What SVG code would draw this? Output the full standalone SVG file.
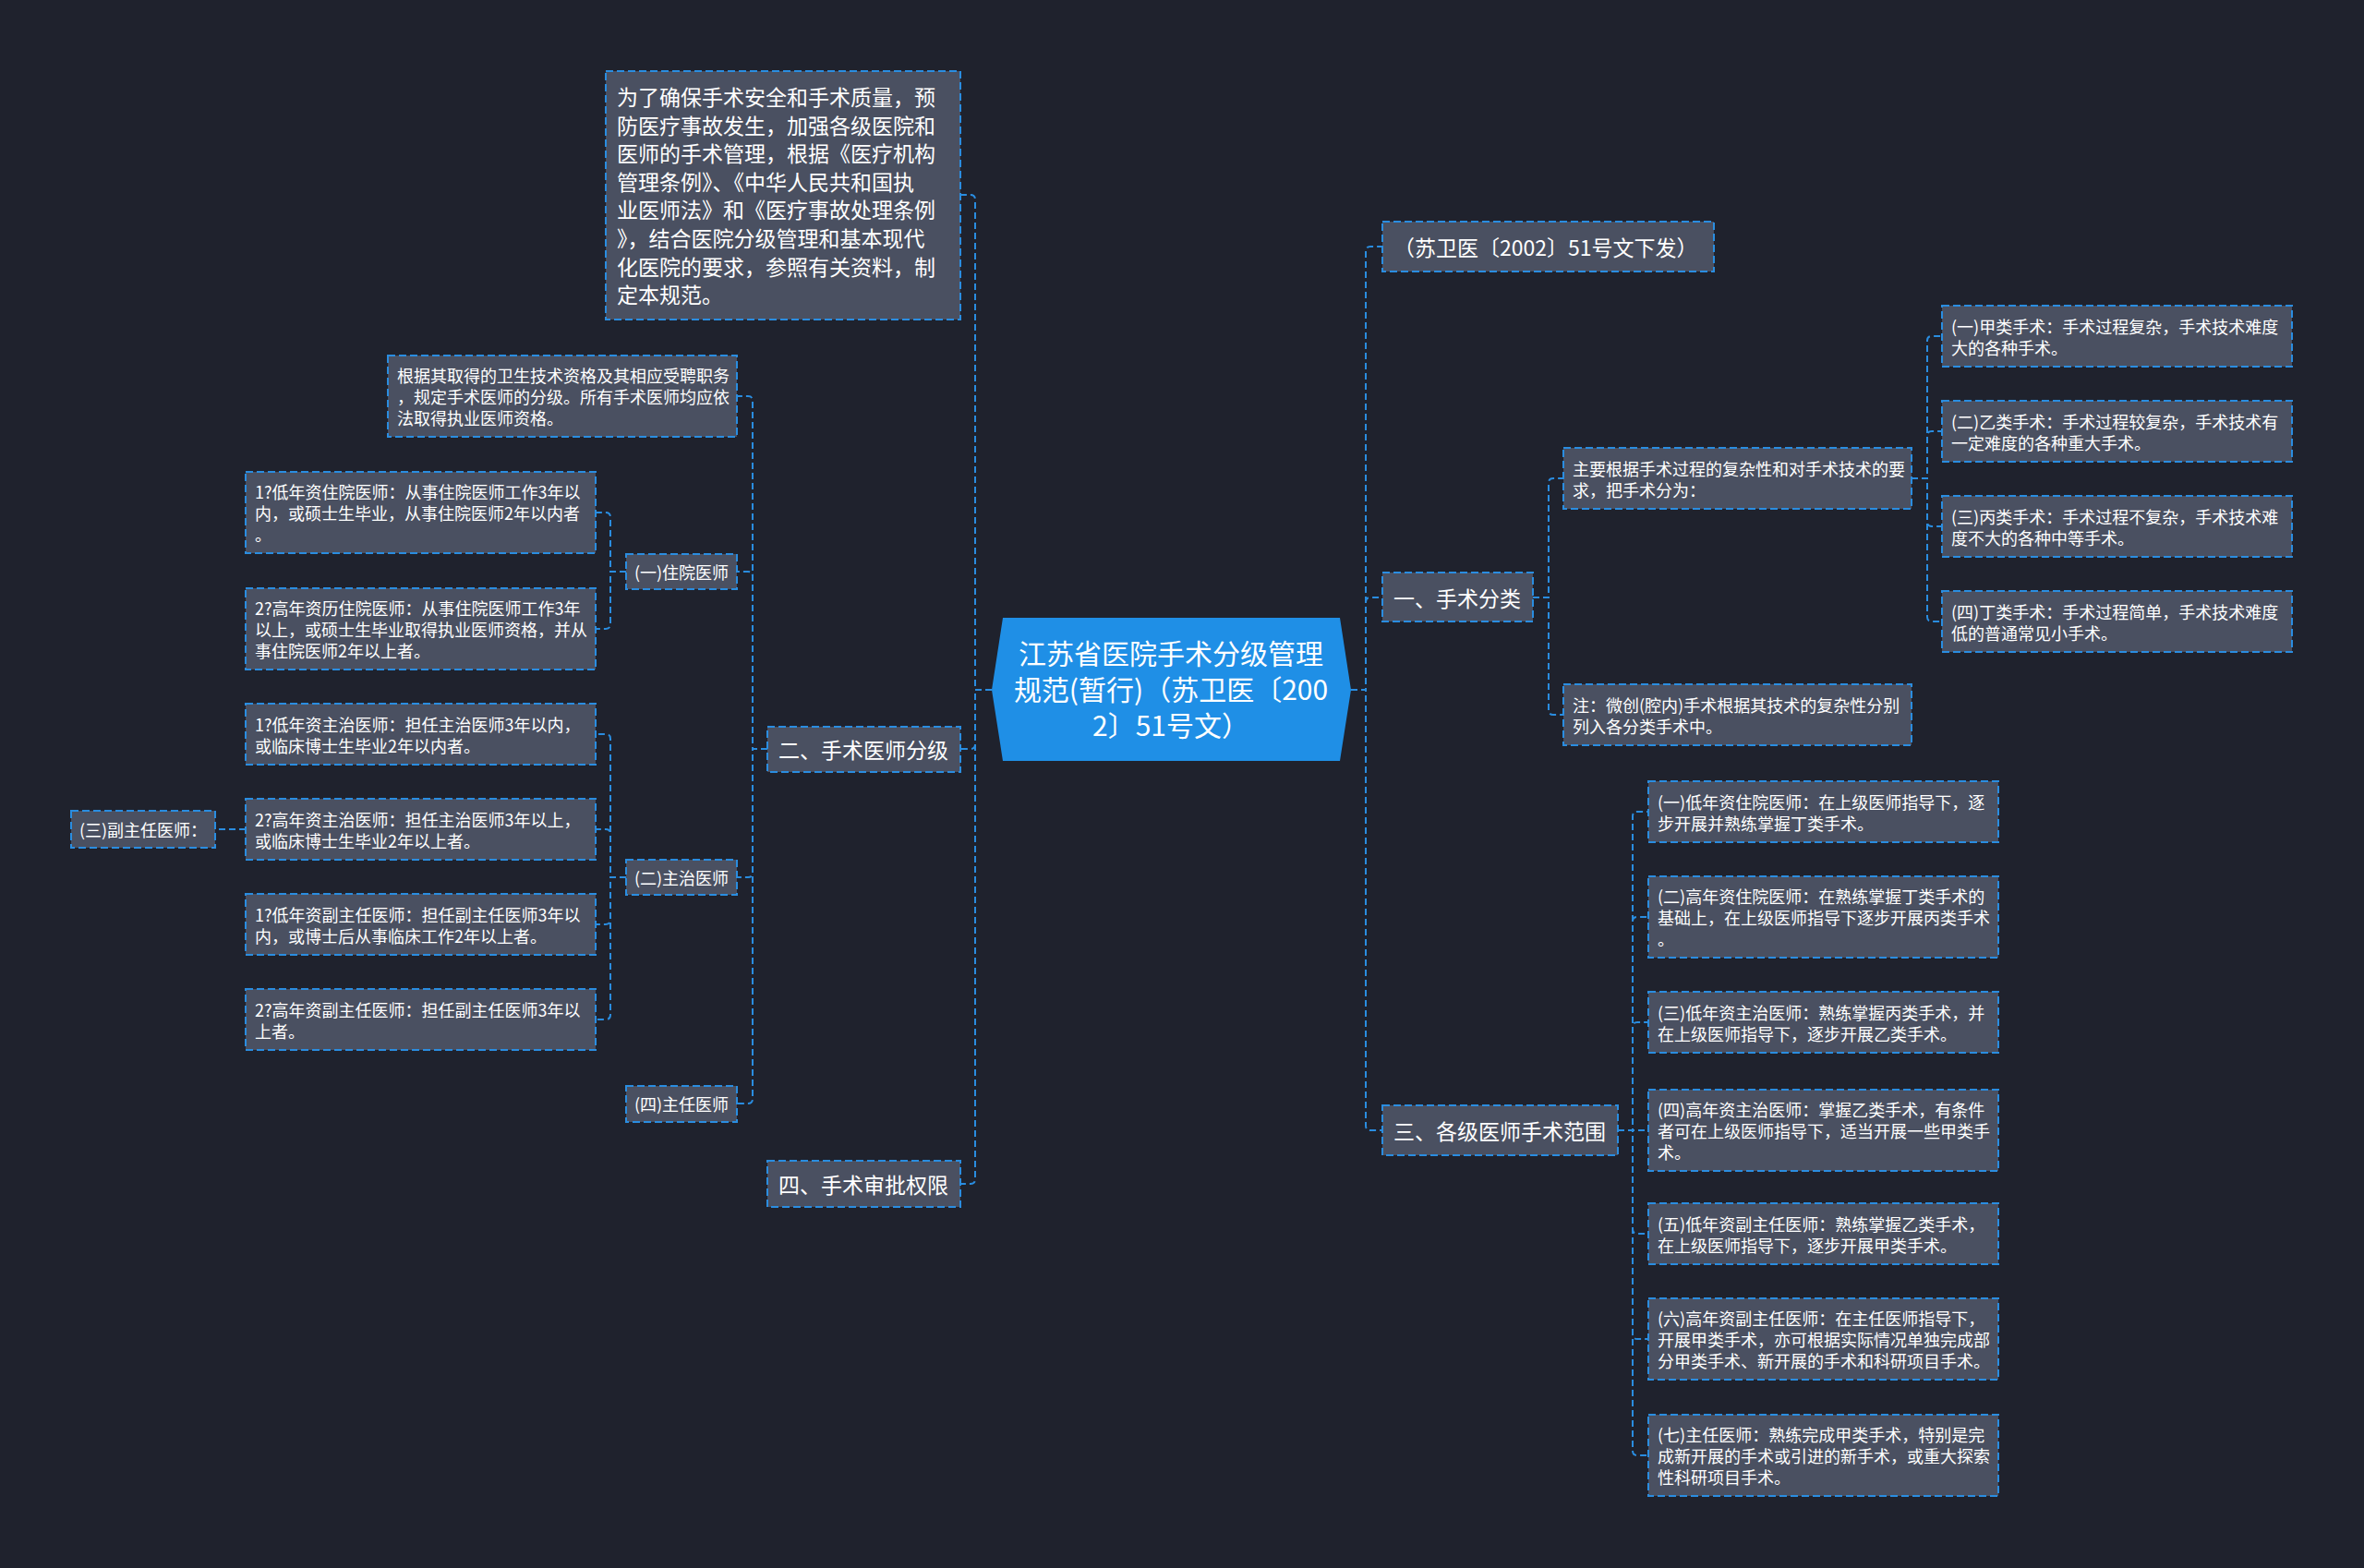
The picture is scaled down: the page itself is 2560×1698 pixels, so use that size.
<svg xmlns="http://www.w3.org/2000/svg" width="2560" height="1698" viewBox="0 0 2560 1698">
<defs>
<style>
.bg{fill:#1f222d}
.n{fill:#4a5061;stroke:#2a8de0;stroke-width:2;stroke-dasharray:8 4}
.root{fill:#1f8fe6}
.t{font-family:"Noto Sans CJK SC","Noto Sans",sans-serif;fill:#ffffff;dominant-baseline:central}
.s18{font-size:18px}
.s23{font-size:23px}
.s30{font-size:30px}
.c{fill:none;stroke:#2a8de0;stroke-width:2;stroke-dasharray:7 4}
</style>
</defs>
<rect class="bg" x="0" y="0" width="2560" height="1698"/>

<g id="connectors">
<path class="c" d="M1074 747 H1056 V216 Q1056 211 1051 211 H1040"/>
<path class="c" d="M1074 747 H1056 V806 Q1056 811 1051 811 H1040"/>
<path class="c" d="M1074 747 H1056 V1277 Q1056 1282 1051 1282 H1040"/>
<path class="c" d="M831 811 H815 V434 Q815 429 810 429 H798"/>
<path class="c" d="M831 811 H815 V624 Q815 619 810 619 H798"/>
<path class="c" d="M831 811 H815 V945 Q815 950 810 950 H798"/>
<path class="c" d="M831 811 H815 V1190 Q815 1195 810 1195 H798"/>
<path class="c" d="M678 619 H661 V560 Q661 555 656 555 H645"/>
<path class="c" d="M678 619 H661 V676 Q661 681 656 681 H645"/>
<path class="c" d="M678 950 H661 V800 Q661 795 656 795 H645"/>
<path class="c" d="M678 950 H661 V903 Q661 898 656 898 H645"/>
<path class="c" d="M678 950 H661 V996 Q661 1001 656 1001 H645"/>
<path class="c" d="M678 950 H661 V1099 Q661 1104 656 1104 H645"/>
<path class="c" d="M266 898 H233"/>
<path class="c" d="M1463 747 H1479 V272 Q1479 267 1484 267 H1497"/>
<path class="c" d="M1463 747 H1479 V652 Q1479 647 1484 647 H1497"/>
<path class="c" d="M1463 747 H1479 V1219 Q1479 1224 1484 1224 H1497"/>
<path class="c" d="M1660 647 H1677 V523 Q1677 518 1682 518 H1693"/>
<path class="c" d="M1660 647 H1677 V769 Q1677 774 1682 774 H1693"/>
<path class="c" d="M2070 518 H2087 V369 Q2087 364 2092 364 H2103"/>
<path class="c" d="M2070 518 H2087 V472 Q2087 467 2092 467 H2103"/>
<path class="c" d="M2070 518 H2087 V565 Q2087 570 2092 570 H2103"/>
<path class="c" d="M2070 518 H2087 V668 Q2087 673 2092 673 H2103"/>
<path class="c" d="M1752 1224 H1768 V884 Q1768 879 1773 879 H1785"/>
<path class="c" d="M1752 1224 H1768 V998 Q1768 993 1773 993 H1785"/>
<path class="c" d="M1752 1224 H1768 V1112 Q1768 1107 1773 1107 H1785"/>
<path class="c" d="M1752 1224 H1785"/>
<path class="c" d="M1752 1224 H1768 V1331 Q1768 1336 1773 1336 H1785"/>
<path class="c" d="M1752 1224 H1768 V1445 Q1768 1450 1773 1450 H1785"/>
<path class="c" d="M1752 1224 H1768 V1571 Q1768 1576 1773 1576 H1785"/>
</g>

<g id="root">
<path class="root" d="M1074 747 L1086 669 L1451 669 L1463 747 L1451 824 L1086 824 Z"/>
<text class="t s30" text-anchor="middle"><tspan x="1268" y="706">江苏省医院手术分级管理</tspan><tspan x="1268" y="745">规范(暂行)（苏卫医〔200</tspan><tspan x="1268" y="784">2〕51号文）</tspan></text>
</g>

<g id="intro">
<rect class="n" x="656" y="77" width="384" height="269"/>
<text class="t s23"><tspan x="668" y="104">为了确保手术安全和手术质量，预</tspan><tspan x="668" y="135">防医疗事故发生，加强各级医院和</tspan><tspan x="668" y="165">医师的手术管理，根据《医疗机构</tspan><tspan x="668" y="196">管理条例》、《中华人民共和国执</tspan><tspan x="668" y="226">业医师法》和《医疗事故处理条例</tspan><tspan x="668" y="257">》，结合医院分级管理和基本现代</tspan><tspan x="668" y="288">化医院的要求，参照有关资料，制</tspan><tspan x="668" y="318">定本规范。</tspan></text>
</g>

<g id="sec2">
<rect class="n" x="831" y="787" width="209" height="49"/>
<text class="t s23" x="843" y="811">二、手术医师分级</text>
</g>
<g id="sec4">
<rect class="n" x="831" y="1257" width="209" height="50"/>
<text class="t s23" x="843" y="1282">四、手术审批权限</text>
</g>

<g id="basis">
<rect class="n" x="420" y="385" width="378" height="88"/>
<text class="t s18"><tspan x="430" y="406">根据其取得的卫生技术资格及其相应受聘职务</tspan><tspan x="430" y="429">，规定手术医师的分级。所有手术医师均应依</tspan><tspan x="430" y="452">法取得执业医师资格。</tspan></text>
</g>

<g id="resident">
<rect class="n" x="678" y="600" width="120" height="38"/>
<text class="t s18" x="738" y="619" text-anchor="middle">(一)住院医师</text>
</g>
<g id="res1">
<rect class="n" x="266" y="511" width="379" height="88"/>
<text class="t s18"><tspan x="276" y="532">1?低年资住院医师：从事住院医师工作3年以</tspan><tspan x="276" y="555">内，或硕士生毕业，从事住院医师2年以内者</tspan><tspan x="276" y="578">。</tspan></text>
</g>
<g id="res2">
<rect class="n" x="266" y="637" width="379" height="88"/>
<text class="t s18"><tspan x="276" y="658">2?高年资历住院医师：从事住院医师工作3年</tspan><tspan x="276" y="681">以上，或硕士生毕业取得执业医师资格，并从</tspan><tspan x="276" y="704">事住院医师2年以上者。</tspan></text>
</g>

<g id="attending">
<rect class="n" x="678" y="931" width="120" height="38"/>
<text class="t s18" x="738" y="950" text-anchor="middle">(二)主治医师</text>
</g>
<g id="att1">
<rect class="n" x="266" y="762" width="379" height="66"/>
<text class="t s18"><tspan x="276" y="783.5">1?低年资主治医师：担任主治医师3年以内，</tspan><tspan x="276" y="806.5">或临床博士生毕业2年以内者。</tspan></text>
</g>
<g id="att2">
<rect class="n" x="266" y="865" width="379" height="66"/>
<text class="t s18"><tspan x="276" y="886.5">2?高年资主治医师：担任主治医师3年以上，</tspan><tspan x="276" y="909.5">或临床博士生毕业2年以上者。</tspan></text>
</g>
<g id="assoc">
<rect class="n" x="77" y="878" width="156" height="40"/>
<text class="t s18" x="155" y="898" text-anchor="middle">(三)副主任医师：</text>
</g>
<g id="att3">
<rect class="n" x="266" y="968" width="379" height="66"/>
<text class="t s18"><tspan x="276" y="989.5">1?低年资副主任医师：担任副主任医师3年以</tspan><tspan x="276" y="1012.5">内，或博士后从事临床工作2年以上者。</tspan></text>
</g>
<g id="att4">
<rect class="n" x="266" y="1071" width="379" height="66"/>
<text class="t s18"><tspan x="276" y="1092.5">2?高年资副主任医师：担任副主任医师3年以</tspan><tspan x="276" y="1115.5">上者。</tspan></text>
</g>
<g id="chief">
<rect class="n" x="678" y="1176" width="120" height="39"/>
<text class="t s18" x="738" y="1195" text-anchor="middle">(四)主任医师</text>
</g>

<g id="doc">
<rect class="n" x="1497" y="240" width="359" height="54"/>
<text class="t s23" x="1509" y="267">（苏卫医〔2002〕51号文下发）</text>
</g>
<g id="sec1">
<rect class="n" x="1497" y="620" width="163" height="53"/>
<text class="t s23" x="1509" y="647">一、手术分类</text>
</g>
<g id="sec3">
<rect class="n" x="1497" y="1197" width="255" height="54"/>
<text class="t s23" x="1509" y="1224">三、各级医师手术范围</text>
</g>

<g id="classify">
<rect class="n" x="1693" y="485" width="377" height="66"/>
<text class="t s18"><tspan x="1703" y="506.5">主要根据手术过程的复杂性和对手术技术的要</tspan><tspan x="1703" y="529.5">求，把手术分为：</tspan></text>
</g>
<g id="note">
<rect class="n" x="1693" y="741" width="377" height="66"/>
<text class="t s18"><tspan x="1703" y="762.5">注：微创(腔内)手术根据其技术的复杂性分别</tspan><tspan x="1703" y="785.5">列入各分类手术中。</tspan></text>
</g>
<g id="cA">
<rect class="n" x="2103" y="331" width="379" height="66"/>
<text class="t s18"><tspan x="2113" y="352.5">(一)甲类手术：手术过程复杂，手术技术难度</tspan><tspan x="2113" y="375.5">大的各种手术。</tspan></text>
</g>
<g id="cB">
<rect class="n" x="2103" y="434" width="379" height="66"/>
<text class="t s18"><tspan x="2113" y="455.5">(二)乙类手术：手术过程较复杂，手术技术有</tspan><tspan x="2113" y="478.5">一定难度的各种重大手术。</tspan></text>
</g>
<g id="cC">
<rect class="n" x="2103" y="537" width="379" height="66"/>
<text class="t s18"><tspan x="2113" y="558.5">(三)丙类手术：手术过程不复杂，手术技术难</tspan><tspan x="2113" y="581.5">度不大的各种中等手术。</tspan></text>
</g>
<g id="cD">
<rect class="n" x="2103" y="640" width="379" height="66"/>
<text class="t s18"><tspan x="2113" y="661.5">(四)丁类手术：手术过程简单，手术技术难度</tspan><tspan x="2113" y="684.5">低的普通常见小手术。</tspan></text>
</g>

<g id="r1">
<rect class="n" x="1785" y="846" width="379" height="66"/>
<text class="t s18"><tspan x="1795" y="867.5">(一)低年资住院医师：在上级医师指导下，逐</tspan><tspan x="1795" y="890.5">步开展并熟练掌握丁类手术。</tspan></text>
</g>
<g id="r2">
<rect class="n" x="1785" y="949" width="379" height="88"/>
<text class="t s18"><tspan x="1795" y="970">(二)高年资住院医师：在熟练掌握丁类手术的</tspan><tspan x="1795" y="993">基础上，在上级医师指导下逐步开展丙类手术</tspan><tspan x="1795" y="1016">。</tspan></text>
</g>
<g id="r3">
<rect class="n" x="1785" y="1074" width="379" height="66"/>
<text class="t s18"><tspan x="1795" y="1095.5">(三)低年资主治医师：熟练掌握丙类手术，并</tspan><tspan x="1795" y="1118.5">在上级医师指导下，逐步开展乙类手术。</tspan></text>
</g>
<g id="r4">
<rect class="n" x="1785" y="1180" width="379" height="88"/>
<text class="t s18"><tspan x="1795" y="1201">(四)高年资主治医师：掌握乙类手术，有条件</tspan><tspan x="1795" y="1224">者可在上级医师指导下，适当开展一些甲类手</tspan><tspan x="1795" y="1247">术。</tspan></text>
</g>
<g id="r5">
<rect class="n" x="1785" y="1303" width="379" height="66"/>
<text class="t s18"><tspan x="1795" y="1324.5">(五)低年资副主任医师：熟练掌握乙类手术，</tspan><tspan x="1795" y="1347.5">在上级医师指导下，逐步开展甲类手术。</tspan></text>
</g>
<g id="r6">
<rect class="n" x="1785" y="1406" width="379" height="88"/>
<text class="t s18"><tspan x="1795" y="1427">(六)高年资副主任医师：在主任医师指导下，</tspan><tspan x="1795" y="1450">开展甲类手术，亦可根据实际情况单独完成部</tspan><tspan x="1795" y="1473">分甲类手术、新开展的手术和科研项目手术。</tspan></text>
</g>
<g id="r7">
<rect class="n" x="1785" y="1532" width="379" height="88"/>
<text class="t s18"><tspan x="1795" y="1553">(七)主任医师：熟练完成甲类手术，特别是完</tspan><tspan x="1795" y="1576">成新开展的手术或引进的新手术，或重大探索</tspan><tspan x="1795" y="1599">性科研项目手术。</tspan></text>
</g>
</svg>
